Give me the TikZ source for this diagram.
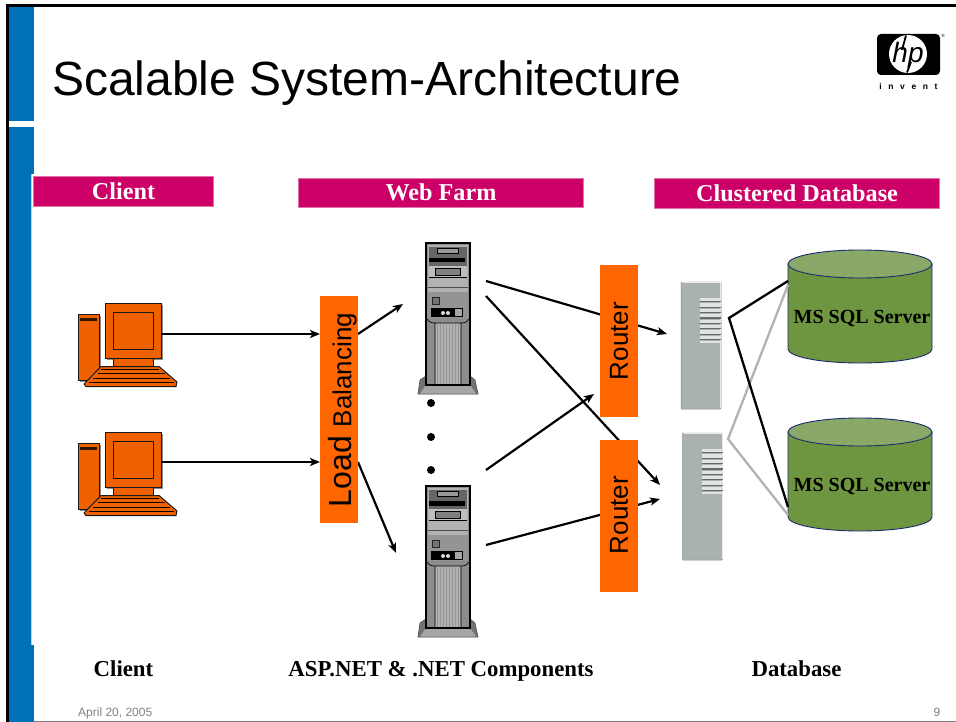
\documentclass[tikz,border=0pt]{standalone}
\usepackage{fontspec}
\setmainfont{Liberation Sans}
\newfontfamily\serifb[BoldFont={Liberation Serif Bold}]{Liberation Serif}
\usetikzlibrary{arrows.meta}
\definecolor{hpblue}{HTML}{0070B8}
\definecolor{band}{HTML}{CC0066}
\definecolor{orangebox}{HTML}{FF6600}
\definecolor{pcorange}{HTML}{EE6000}
\definecolor{dbgreen}{HTML}{6E9640}
\definecolor{dbtop}{HTML}{8AA968}
\definecolor{dbedge}{HTML}{1A2A70}
\definecolor{rackgray}{HTML}{A9B2B1}
\tikzset{
  x=1pt,y=-1pt,
  bandbox/.style={fill=band,draw=band!55!white,line width=.6pt,text=white,font=\fontsize{24.2}{26}\selectfont\serifb\bfseries,inner sep=0pt,anchor=center,text depth=0pt},
  orangebar/.style={fill=orangebox,inner sep=0pt,text=black,anchor=center},
  caption/.style={font=\fontsize{22.8}{24}\selectfont\serifb\bfseries,inner sep=0pt,text=black,anchor=base},
  foot/.style={font=\fontsize{12}{13}\selectfont,text=black!50,inner sep=0pt},
  conn/.style={draw=black,line width=2.2pt,-{Stealth[length=10pt,width=8pt,inset=2.5pt]}},
  link/.style={line width=2.3pt},
  pcline/.style={draw=black!90,line width=1pt,fill=pcorange},
}
\newcommand{\pcicon}[2]{%
 \begin{scope}[shift={(#1,#2)}]
  \fill[black!45] (80,316) rectangle (100.5,381.5);
  \draw[pcline] (78,314) rectangle (99,380);
  \fill[black!80!pcorange] (80,318) rectangle (97,321);
  \fill[black!45] (107,305) rectangle (162.5,359.5);
  \draw[pcline] (105,303.5) rectangle (161,358);
  \draw[pcline] (113,312) rectangle (153,349);
  \draw[pcline] (113,358) rectangle (153,367);
  \draw[pcline,line join=round] (101,366.5) -- (159,366.5) -- (177,382) -- (176,386.5) -- (86,386.5) -- (84,384) -- cycle;
  \draw[black,line width=.8pt] (101,369.5) -- (159,369.5) (98,373.5) -- (165,373.5) (93,378) -- (170,378) (89,382.5) -- (174,382.5);
 \end{scope}}
\newcommand{\towericon}[2]{%
 \begin{scope}[shift={(#1,#2)}]
  \fill[black!55,draw=black!70,line width=.6pt] (418,394) -- (420,380) -- (426,376) -- (470,376) -- (475,380) -- (478,394) -- cycle;
  \fill[black!35] (426,385) -- (470,385) -- (476,393.5) -- (420,393.5) -- cycle;
  \fill[black!45,draw=black,line width=1.2pt] (426,243) rectangle (470,385);
  \fill[black!30] (428,245) rectangle (468,292);
  \fill[black!60] (429,247) rectangle (467,266);
  \fill[black!40,draw=black,line width=.5pt] (437,248.5) rectangle (458,253);
  \fill[black] (429,258) rectangle (465,262.5);
  \fill[black!25] (429,266) rectangle (467,277);
  \fill[black!50,draw=black,line width=.6pt] (435,268) rectangle (460,275);
  \draw[black,line width=.6pt] (429,277) -- (467,277);
  \fill[black!30] (429,278) rectangle (467,287);
  \draw[black!70,line width=.6pt] (428,287) -- (468,287);
  \fill[black!42] (428,292) rectangle (468,318);
  \fill[black!55,draw=black!85,line width=.5pt] (432,297) rectangle (439,304);
  \fill[black] (431,308) rectangle (463,317);
  \fill[black!15] (443,313) circle (2);
  \fill[black!15] (448,313) circle (2);
  \fill[black!35] (455,309) rectangle (462,316);
  \fill[black!30] (435,323) rectangle (461,385);
  \foreach \k in {437,440,...,459} {\draw[black!42,line width=.5pt] (\k,324) -- (\k,384);}
  \draw[black,line width=.7pt] (427,319) .. controls (429,322) and (431,323) .. (435,323) -- (435,385)
     (469,319) .. controls (467,322) and (465,323) .. (461,323) -- (461,385)
     (435,323) -- (461,323);
  \draw[black,line width=1.4pt] (426,385) -- (470,385);
 \end{scope}}
\newcommand{\rackicon}[2]{%
 \begin{scope}[shift={(#1,#2)}]
  \fill[rackgray,draw=black!45,line width=.5pt,rounded corners=.8pt] (681,282) rectangle (721,409);
  \draw[white!75!rackgray,line width=.8pt] (682,282.5) -- (720.5,282.5) -- (720.5,408);
  \foreach \k in {298,303.4,...,340} {
    \fill[white!65!rackgray] (700,\k) rectangle (721,\k+3.2);
    \fill[black!40!rackgray] (700,\k+3.2) rectangle (721,\k+4.4);}
  \fill[white!65!rackgray] (700,341) rectangle (721,342.5);
 \end{scope}}
\newcommand{\dbcyl}[3]{%
  \path[fill=dbgreen,draw=dbedge,line width=.9pt] (788,#2) -- (788,#2+85) arc[start angle=180,end angle=0,x radius=72,y radius=14] -- (932,#2) -- cycle;
  \path[fill=dbtop,draw=dbedge,line width=.9pt] (860,#2) ellipse [x radius=72,y radius=14];
  \node[font=\fontsize{20}{22}\selectfont\serifb\bfseries,inner sep=0pt,anchor=base] (#3) at (862,#2+59) {MS SQL Server};}
\begin{document}
\begin{tikzpicture}
\useasboundingbox (0,0) rectangle (956,722);
\fill[white] (0,0) rectangle (956,722);
% slide frame
\fill[hpblue] (9,7) rectangle (34,121);
\fill[hpblue] (9,127) rectangle (34,722);
\fill[black] (6,4) rectangle (956,7);
\fill[black] (6,4) rectangle (9,722);
\fill[black!50] (34,720.5) rectangle (956,722);
\fill[white] (32,174) rectangle (36,645);
\draw[white!70!hpblue,line width=.6pt] (31.7,174) -- (31.7,645);
% title
\node[anchor=base west,inner sep=0pt,font=\fontsize{48}{54}\selectfont] (title) at (52,96) {Scalable System-Architecture};
% hp logo
\fill[black,rounded corners=4pt] (877,34) rectangle (940,75);
\fill[white] (908,54) circle (19);
\node[inner sep=0pt,text=black,font=\fontsize{28}{28}\selectfont\itshape] (hp) at (908,55) {hp};
\draw[black,line width=1.8pt] (906,35.5) -- (902,50);
\draw[black,line width=1.8pt] (911,62) -- (907,72.5);
\node[inner sep=0pt,font=\fontsize{4.5}{5}\selectfont] (reg) at (943,36) {®};
\node[inner sep=0pt,font=\fontsize{8.5}{9}\selectfont\bfseries] (invent) at (908.5,86) {i\hspace{6.6pt}n\hspace{6.6pt}v\hspace{6.6pt}e\hspace{6.6pt}n\hspace{6.6pt}t};
% header bands
\node[bandbox,minimum width=180.4pt,minimum height=30.4pt,text height=17pt] (hclient) at (123.5,191.5) {Client};
\node[bandbox,minimum width=285.4pt,minimum height=29.4pt,text height=16pt] (hweb) at (441,193) {Web Farm};
\node[bandbox,minimum width=285.4pt,minimum height=30.4pt,text height=17pt] (hdb) at (797,193.5) {Clustered Database};
% icons
\pcicon{0}{0}
\pcicon{0}{129}
\towericon{0}{0}
\towericon{0}{243}
\rackicon{0}{0}
\rackicon{1.5}{151}
% anchor points of connectors
\coordinate (pca) at (161,334);
\coordinate (pcb) at (161,462);
\coordinate (lbina) at (320,334);
\coordinate (lbinb) at (320,462);
\coordinate (lbouta) at (358,334);
\coordinate (lboutb) at (358,462);
\coordinate (srva) at (403,304);
\coordinate (srvb) at (396,553);
\coordinate (ta) at (486,281);
\coordinate (tb) at (486,296);
\coordinate (ba) at (486,470);
\coordinate (bb) at (486,545);
\coordinate (ra) at (667,334);
\coordinate (rb) at (660,485);
\coordinate (rc) at (594,394);
\coordinate (rd) at (660,499);
\coordinate (hubk) at (729,318);
\coordinate (hubg) at (728,439);
\coordinate (dbka) at (788,281);
\coordinate (dbkb) at (788,507);
\coordinate (dbga) at (788,285);
\coordinate (dbgb) at (788,515);
% connectors behind routers
\draw[conn] (pca) -- (lbina);
\draw[conn] (pcb) -- (lbinb);
\draw[conn] (lbouta) -- (srva);
\draw[conn] (lboutb) -- (srvb);
\draw[conn] (ta) -- (ra);
\draw[conn] (tb) -- (rb);
\draw[conn] (ba) -- (rc);
\draw[conn] (bb) -- (rd);
% orange bars
\node[orangebar,minimum width=38pt,minimum height=227pt] (lb) at (339,409.5) {};
\node[rotate=90,inner sep=0pt,anchor=center,text=black] (lbt) at (342.5,410) {\fontsize{32}{34}\selectfont Load \fontsize{26}{30}\selectfont Balancing};
\node[orangebar,minimum width=38pt,minimum height=152pt] (routa) at (619,341) {};
\node[rotate=90,inner sep=0pt,font=\fontsize{26}{30}\selectfont] (routat) at (619,341) {Router};
\node[orangebar,minimum width=38pt,minimum height=152pt] (routb) at (619,516) {};
\node[rotate=90,inner sep=0pt,font=\fontsize{26}{30}\selectfont] (routbt) at (619,515) {Router};
% ellipsis dots
\fill[black] (431,403) circle (4);
\fill[black] (431,437) circle (4);
\fill[black] (431,470) circle (4);
% databases
\dbcyl{0}{264}{dba}
\dbcyl{0}{432}{dbb}
% links to databases
\draw[link,black!30] (dbga) -- (hubg) -- (dbgb);
\draw[link,black] (dbka) -- (hubk) -- (dbkb);
% captions
\node[caption] (cclient) at (123.5,676) {Client};
\node[caption] (cweb) at (441,676) {ASP.NET \& .NET Components};
\node[caption] (cdb) at (796.5,676) {Database};
% footer
\node[foot,anchor=base west] (date) at (78,716) {April 20, 2005};
\node[foot,anchor=base] (page) at (937,716) {9};
\end{tikzpicture}
\end{document}
